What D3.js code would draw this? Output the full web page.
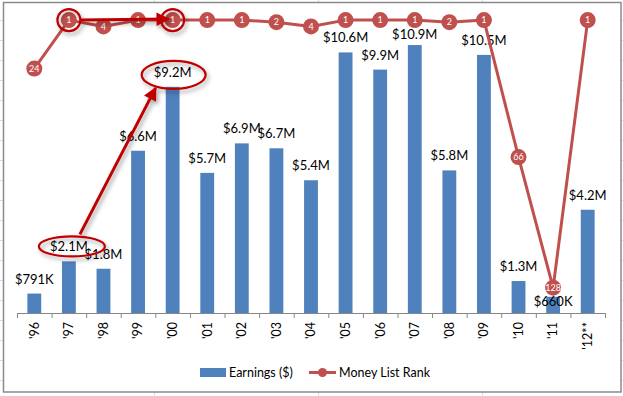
<!DOCTYPE html>
<html><head><meta charset="utf-8">
<script src="https://cdn.jsdelivr.net/npm/d3@7"></script>
<style>
html,body{margin:0;padding:0;background:#fff;}
svg{display:block;font-family:Lato,"Open Sans",sans-serif;}
</style></head>
<body><svg id="c" width="623" height="396"></svg>
<script>
const categories = ["'96","'97","'98","'99","'00","'01","'02","'03","'04","'05","'06","'07","'08","'09","'10","'11","'12**"];
const earnings = [0.791,2.1,1.8,6.6,9.2,5.7,6.9,6.7,5.4,10.6,9.9,10.9,5.8,10.5,1.3,0.66,4.2];
const earningLabels = ["$791K","$2.1M","$1.8M","$6.6M","$9.2M","$5.7M","$6.9M","$6.7M","$5.4M","$10.6M","$9.9M","$10.9M","$5.8M","$10.5M","$1.3M","$660K","$4.2M"];
const ranks = [24,1,4,1,1,1,1,2,4,1,1,1,2,1,66,128,1];
const seriesNames = ["Earnings ($)","Money List Rank"];

const W=623,H=396;
const svg=d3.select("#c");
const BLUE="#4F81BD", RED="#C0504D", DARK="#C00000";

const defs=svg.append("defs");
const f=defs.append("filter").attr("id","sh").attr("x","-20%").attr("y","-20%").attr("width","150%").attr("height","150%");
f.append("feDropShadow").attr("dx",2).attr("dy",3).attr("stdDeviation",2).attr("flood-color","#000").attr("flood-opacity",0.35);
defs.append("marker").attr("id","ah").attr("viewBox","0 0 10 10").attr("refX",9).attr("refY",5)
  .attr("markerWidth",5).attr("markerHeight",4.5).attr("markerUnits","strokeWidth").attr("orient","auto")
  .append("path").attr("d","M0,0L10,5L0,10Z").attr("fill",DARK);

// spreadsheet gridlines behind the chart object
const bg=svg.append("g").attr("stroke","#d9dde3").attr("stroke-width",1);
d3.range(20,H,20).forEach(v=>bg.append("line").attr("x1",0).attr("x2",W).attr("y1",v+0.5).attr("y2",v+0.5));
[154,318,482].forEach(v=>bg.append("line").attr("x1",v+0.5).attr("x2",v+0.5).attr("y1",0).attr("y2",H));

// chart frame
svg.append("rect").attr("x",3.5).attr("y",2.5).attr("width",617.5).attr("height",389.5)
  .attr("fill","#fff").attr("stroke","#8a8a8a").attr("stroke-width",1.5);

const x=d3.scaleBand().domain(categories).range([17,605]).padding(0);
const bw=x.bandwidth()*0.4;
const cx=c=>x(c)+x.bandwidth()/2;
const yE=d3.scaleLinear().domain([0,12]).range([313,18]);
const yR=d3.scaleLinear().domain([0,140]).range([18,313]);

// bars
svg.append("g").selectAll("rect").data(categories).join("rect")
  .attr("x",(c)=>cx(c)-bw/2).attr("width",bw)
  .attr("y",(c,i)=>yE(earnings[i])).attr("height",(c,i)=>yE(0)-yE(earnings[i]))
  .attr("fill",BLUE);

// x axis with boundary ticks
const xi=d3.scaleLinear().domain([0,categories.length]).range([17,605]);
const ax=svg.append("g").attr("transform","translate(0,313)")
  .call(d3.axisBottom(xi).tickValues(d3.range(0,categories.length+1)).tickSize(5).tickSizeOuter(0).tickFormat(""));
ax.select(".domain").attr("stroke","#868686").attr("stroke-width",1.2);
ax.selectAll(".tick line").attr("stroke","#868686");
svg.append("g").selectAll("text").data(categories).join("text")
  .attr("transform",c=>`translate(${cx(c)},322) rotate(-90)`)
  .attr("text-anchor","end").attr("dy","0.35em").attr("font-size",12.5).attr("fill","#000")
  .text(c=>c);

// bar labels (kept inside the plot top; moved below a rank marker they would collide with)
function labelY(i){
  let y=Math.max(yE(earnings[i])-10, 39);
  const ry=yR(ranks[i]);
  if(Math.abs((y-4)-ry)<12) y=ry+18;
  return y;
}
svg.append("g").selectAll("text").data(categories).join("text")
  .attr("x",c=>cx(c)).attr("y",(c,i)=>labelY(i))
  .attr("text-anchor","middle").attr("font-size",13).attr("fill","#000")
  .text((c,i)=>earningLabels[i]);

// rank line
const line=d3.line().x((d,i)=>cx(categories[i])).y(d=>yR(d));
svg.append("path").datum(ranks).attr("d",line).attr("fill","none").attr("stroke",RED).attr("stroke-width",3).attr("stroke-linejoin","round");
const mk=svg.append("g").selectAll("g").data(ranks).join("g")
  .attr("transform",(d,i)=>`translate(${cx(categories[i])},${yR(d)})`);
mk.append("circle").attr("r",8).attr("fill",RED);
mk.append("text").attr("text-anchor","middle").attr("dy","0.35em").attr("font-size",9).attr("fill","#fff").text(d=>d);

// annotations
const ann=svg.append("g").attr("filter","url(#sh)").attr("fill","none").attr("stroke",DARK);
const c97=cx("'97"), c00=cx("'00");
ann.append("ellipse").attr("cx",c97).attr("cy",yR(ranks[1])).attr("rx",11.5).attr("ry",11).attr("stroke-width",2.2);
ann.append("ellipse").attr("cx",c00).attr("cy",yR(ranks[4])).attr("rx",11.5).attr("ry",11).attr("stroke-width",2.2);
ann.append("ellipse").attr("cx",c97+3).attr("cy",yE(earnings[1])-15).attr("rx",33).attr("ry",10).attr("stroke-width",2.2);
ann.append("ellipse").attr("cx",c00+1).attr("cy",yE(earnings[4])-12).attr("rx",32).attr("ry",14).attr("stroke-width",2.2);
ann.append("line").attr("x1",c97+12).attr("y1",yR(ranks[1])).attr("x2",c00-4).attr("y2",yR(ranks[4])-1)
  .attr("stroke-width",3).attr("marker-end","url(#ah)");
ann.append("line").attr("x1",c97+11).attr("y1",yE(earnings[1])-27).attr("x2",c00-17).attr("y2",yE(earnings[4])+1)
  .attr("stroke-width",3).attr("marker-end","url(#ah)");

// legend
const lg=svg.append("g");
lg.append("rect").attr("x",200).attr("y",368).attr("width",26).attr("height",9).attr("fill",BLUE);
lg.append("text").attr("x",229).attr("y",372.5).attr("dy","0.35em").attr("font-size",12.5).text(seriesNames[0]);
lg.append("line").attr("x1",309).attr("x2",336).attr("y1",372.5).attr("y2",372.5).attr("stroke",RED).attr("stroke-width",3);
lg.append("circle").attr("cx",322.5).attr("cy",372.5).attr("r",4.5).attr("fill",RED);
lg.append("text").attr("x",339).attr("y",372.5).attr("dy","0.35em").attr("font-size",12.5).text(seriesNames[1]);
</script></body></html>
